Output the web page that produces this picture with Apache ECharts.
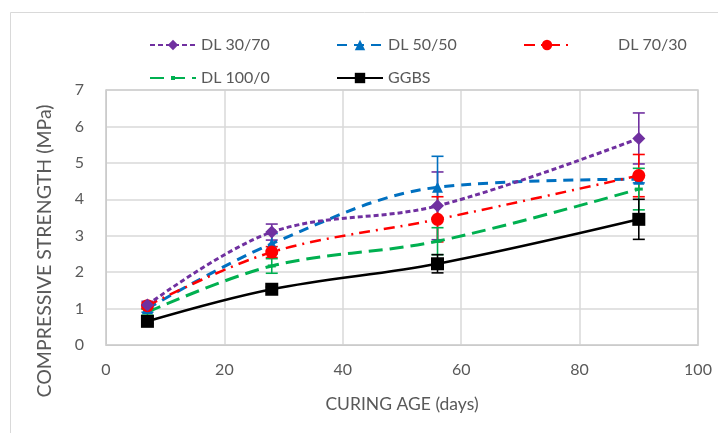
<!DOCTYPE html>
<html>
<head>
<meta charset="utf-8">
<script src="https://cdn.jsdelivr.net/npm/echarts@6/dist/echarts.min.js"></script>
<style>
  html, body { margin: 0; padding: 0; background: #fff; }
  #chart { width: 718px; height: 433px; }
</style>
</head>
<body>
<div id="chart"></div>
<script>
// Curing ages (days)
var ages = [7, 28, 56, 90];

// Mean compressive strength (MPa) per mix
var dl3070 = [1.10, 3.10, 3.82, 5.67];
var dl5050 = [1.00, 2.78, 4.33, 4.55];
var dl7030 = [1.08, 2.55, 3.45, 4.65];
var dl1000 = [0.90, 2.17, 2.85, 4.28];
var ggbs   = [0.65, 1.53, 2.23, 3.45];

// Standard deviation (MPa) per mix
var err3070 = [0.10, 0.22, 0.93, 0.70];
var err5050 = [0.10, 0.28, 0.85, 0.10];
var err7030 = [0.08, 0.15, 0.62, 0.58];
var err1000 = [0.08, 0.20, 0.37, 0.57];
var errGgbs = [0.06, 0.06, 0.25, 0.55];

var seriesNames = ['DL 30/70', 'DL 50/50', 'DL 70/30', 'DL 100/0', 'GGBS'];
var yTicks = [0, 1, 2, 3, 4, 5, 6, 7];
var xTicks = [0, 20, 40, 60, 80, 100];

var FONT = 'Lato, "Open Sans", sans-serif';
var TXT = '#595959';

function pairs(vals) {
  return ages.map(function (a, i) { return [a, vals[i]]; });
}

function errorSeries(name, vals, errs, color) {
  return {
    type: 'custom',
    name: name,
    z: 3,
    silent: true,
    data: ages.map(function (a, i) { return [a, vals[i] - errs[i], vals[i] + errs[i]]; }),
    renderItem: function (params, api) {
      var x = api.value(0);
      var lo = api.coord([x, api.value(1)]);
      var hi = api.coord([x, api.value(2)]);
      var cap = 6;
      var st = { stroke: color, lineWidth: 1.6 };
      return {
        type: 'group',
        children: [
          { type: 'line', shape: { x1: lo[0], y1: lo[1], x2: hi[0], y2: hi[1] }, style: st },
          { type: 'line', shape: { x1: lo[0] - cap, y1: lo[1], x2: lo[0] + cap, y2: lo[1] }, style: st },
          { type: 'line', shape: { x1: hi[0] - cap, y1: hi[1], x2: hi[0] + cap, y2: hi[1] }, style: st }
        ]
      };
    }
  };
}

function lineSeries(name, vals, color, dash, width, symbol, size) {
  return {
    type: 'line',
    name: name,
    data: pairs(vals),
    smooth: 0.35,
    z: 4,
    symbol: symbol,
    symbolSize: size,
    itemStyle: { color: color },
    lineStyle: { color: color, width: width, type: dash },
    emphasis: { disabled: true }
  };
}

function legendItem(name, left, top, iconH, textPad) {
  return {
    data: [name],
    left: left,
    top: top,
    itemWidth: 46,
    itemHeight: iconH,
    itemGap: 8,
    textStyle: { fontFamily: FONT, fontSize: 16, color: TXT, padding: [0, 0, 0, textPad] },
    selectedMode: false
  };
}

var chart = echarts.init(document.getElementById('chart'), null, { renderer: 'canvas' });

chart.setOption({
  animation: false,
  backgroundColor: '#fff',
  grid: { left: 106, right: 20, top: 90, bottom: 88, containLabel: false },
  legend: [
    legendItem(seriesNames[0], 144, 32, 13, 0),
    legendItem(seriesNames[1], 331, 32, 13, 0),
    legendItem(seriesNames[2], 518, 32, 13, 43),
    legendItem(seriesNames[3], 144, 65, 5, 0),
    legendItem(seriesNames[4], 331, 65, 13, 0)
  ],
  xAxis: {
    type: 'value',
    min: xTicks[0],
    max: xTicks[xTicks.length - 1],
    interval: 20,
    axisLine: { show: true, lineStyle: { color: '#bfbfbf', width: 1 } },
    axisTick: { show: false },
    axisLabel: { fontFamily: FONT, fontSize: 16, color: TXT, margin: 17 },
    splitLine: { show: true, lineStyle: { color: '#d9d9d9', width: 1.5 } }
  },
  yAxis: {
    type: 'value',
    min: yTicks[0],
    max: yTicks[yTicks.length - 1],
    interval: 1,
    axisLine: { show: true, lineStyle: { color: '#bfbfbf', width: 1 } },
    axisTick: { show: false },
    axisLabel: { fontFamily: FONT, fontSize: 16, color: TXT, margin: 22 },
    splitLine: { show: true, lineStyle: { color: '#d9d9d9', width: 1.5 } }
  },
  graphic: [
    {
      type: 'rect',
      shape: { x: 10.5, y: 12.5, width: 720, height: 430 },
      style: { fill: 'none', stroke: '#d9d9d9', lineWidth: 1 },
      silent: true, z: -10
    },
    {
      type: 'rect',
      shape: { x: 106, y: 90, width: 592, height: 255 },
      style: { fill: 'none', stroke: '#d0d0d0', lineWidth: 1.5 },
      silent: true, z: 1
    },
    {
      type: 'text',
      x: 45, y: 251,
      rotation: Math.PI / 2,
      style: {
        text: 'COMPRESSIVE STRENGTH (MPa)',
        fontFamily: FONT, fontSize: 19.5, fill: TXT,
        align: 'center', verticalAlign: 'middle'
      },
      silent: true
    },
    {
      type: 'text',
      x: 402, y: 404,
      style: {
        text: 'CURING AGE (days)',
        fontFamily: FONT, fontSize: 17.5, fill: TXT,
        align: 'center', verticalAlign: 'middle'
      },
      silent: true
    }
  ],
  series: [
    errorSeries('err-3070', dl3070, err3070, '#7030A0'),
    errorSeries('err-5050', dl5050, err5050, '#0070C0'),
    errorSeries('err-7030', dl7030, err7030, '#FF0000'),
    errorSeries('err-1000', dl1000, err1000, '#00B050'),
    errorSeries('err-ggbs', ggbs, errGgbs, '#000000'),
    lineSeries(seriesNames[3], dl1000, '#00B050', [14, 7], 3, 'rect', [8, 3]),
    lineSeries(seriesNames[1], dl5050, '#0070C0', [10, 7], 3, 'triangle', 11),
    lineSeries(seriesNames[2], dl7030, '#FF0000', [11, 6, 2, 6], 2.5, 'circle', 13),
    lineSeries(seriesNames[0], dl3070, '#7030A0', [5, 3], 3, 'diamond', 13),
    lineSeries(seriesNames[4], ggbs, '#000000', 'solid', 2.5, 'rect', 13)
  ]
});
</script>
</body>
</html>
